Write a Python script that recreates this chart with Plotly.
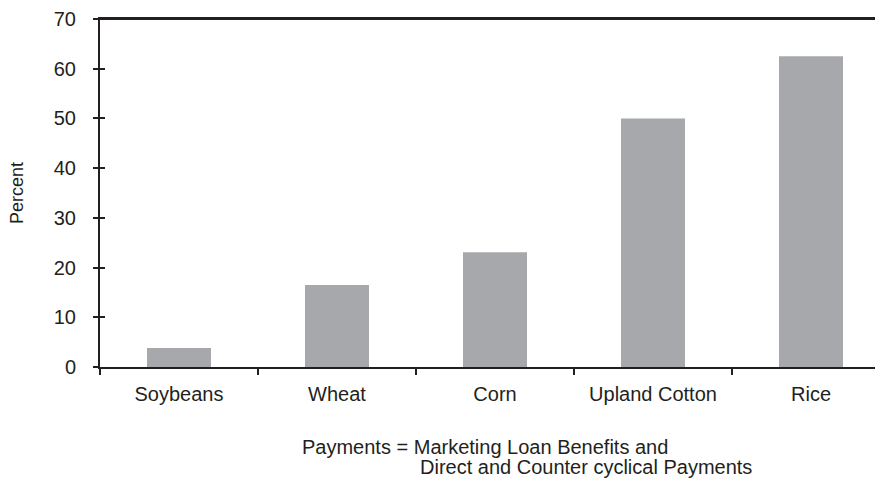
import plotly.graph_objects as go

categories = ["Soybeans", "Wheat", "Corn", "Upland Cotton", "Rice"]
values = [3.8, 16.5, 23.1, 50.0, 62.5]
y_ticks = [0, 10, 20, 30, 40, 50, 60, 70]

# page shows figure offset by 8px (body margin); compensate
OFF = 8
W, H = 883 - OFF, 479 - OFF
ML, MR, MT = 100 - OFF, 0, 17 - OFF
PLOT_BOTTOM = 367 - OFF
MB = H - PLOT_BOTTOM
PW = W - ML - MR
PH = H - MT - MB
cat_w = 158.0

ink = "#231f20"
font = "Liberation Sans, Arial, sans-serif"


def px_x(x_page):
    return (x_page - OFF - ML) / PW


def px_y(y_page):
    return (PLOT_BOTTOM - (y_page - OFF)) / PH


fig = go.Figure()
fig.add_trace(go.Bar(x=categories, y=values, marker=dict(color="#a7a8ab", line=dict(width=0)),
                     showlegend=False))
# invisible trace to anchor second y-axis (inside ticks)
fig.add_trace(go.Scatter(x=categories, y=values, yaxis="y2", mode="markers",
                         marker=dict(opacity=0), showlegend=False, hoverinfo="skip"))

fig.update_layout(
    width=W, height=H,
    margin=dict(l=ML, r=MR, t=MT, b=MB),
    paper_bgcolor="white", plot_bgcolor="white",
    bargap=0.595,
    font=dict(family=font, size=20, color=ink),
    xaxis=dict(
        type="category",
        range=[-0.5, -0.5 + PW / cat_w],
        showline=True, linecolor=ink, linewidth=2, mirror=True,
        ticks="outside", ticklen=6, tickwidth=2, tickcolor=ink,
        tickson="boundaries",
        showgrid=False, zeroline=False,
        tickfont=dict(family=font, size=20, color=ink),
        ticklabelstandoff=8,
    ),
    yaxis=dict(
        range=[0, 70], tickvals=y_ticks,
        showline=True, linecolor=ink, linewidth=2,
        ticks="outside", ticklen=5, tickwidth=2, tickcolor=ink,
        showgrid=False, zeroline=False,
        tickfont=dict(family=font, size=20, color=ink),
        ticklabelstandoff=13,
        ticklabeloverflow="allow",
    ),
    yaxis2=dict(
        range=[0, 70], tickvals=y_ticks, overlaying="y", side="left",
        ticks="inside", ticklen=5, tickwidth=2, tickcolor=ink,
        showticklabels=False, showgrid=False, zeroline=False, showline=False,
    ),
    shapes=[
        dict(type="line", xref="paper", yref="paper", x0=0, x1=1, y0=1, y1=1,
             line=dict(color=ink, width=2), layer="above"),
    ],
    annotations=[
        dict(text="Percent", textangle=-90, xref="paper", yref="paper",
             x=px_x(17), y=px_y(192), xanchor="center", yanchor="middle",
             showarrow=False, font=dict(family=font, size=18, color=ink)),
        dict(text="Payments = Marketing Loan Benefits and", xref="paper", yref="paper",
             x=px_x(300), y=px_y(447), xanchor="left", yanchor="middle",
             showarrow=False, font=dict(family=font, size=20, color=ink)),
        dict(text="Direct and Counter cyclical Payments", xref="paper", yref="paper",
             x=px_x(418), y=px_y(468), xanchor="left", yanchor="middle",
             showarrow=False, font=dict(family=font, size=20, color=ink)),
    ],
)

fig.write_html("out.html")
